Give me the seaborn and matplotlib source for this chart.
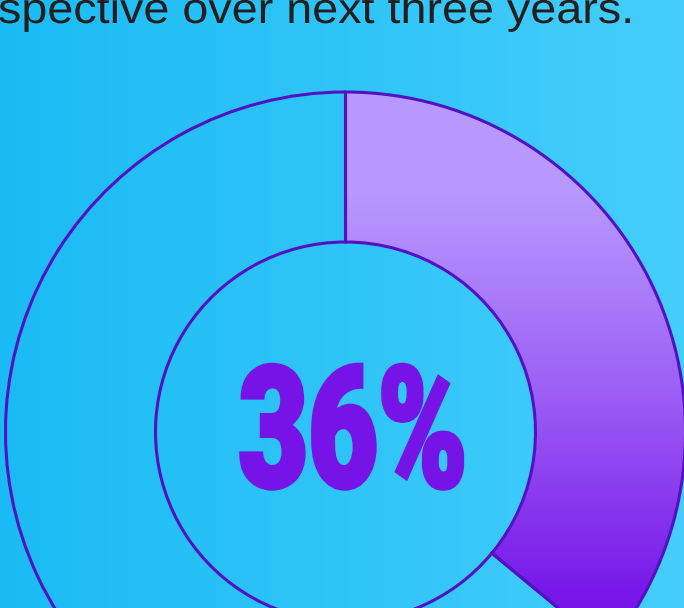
import numpy as np
import matplotlib
matplotlib.use("Agg")
import matplotlib.pyplot as plt
import seaborn as sns
from matplotlib import patheffects
from matplotlib.transforms import Affine2D

# ---- data -------------------------------------------------------------
segments = ["Expect", "Other"]
shares = [36, 64]
headline = "36%"
caption = "spective over next three years."

# ---- styling ----------------------------------------------------------
sns.set_theme(style="white")
W, H = 684, 608
fig = plt.figure(figsize=(W / 100, H / 100), dpi=100)
ax = fig.add_axes([0, 0, 1, 1])

# horizontal cyan backdrop
bg_cmap = sns.blend_palette(["#1abbf4", "#45cefb"], as_cmap=True)
ax.imshow(np.linspace(0, 1, 256)[None, :], cmap=bg_cmap,
          extent=(0, W, 0, H), aspect="auto", zorder=0)

# donut ring
cx, cy = 345.5, 176.0
r_out, r_in = 340.0, 190.0
edge = "#5212c4"
wedges, _ = ax.pie(
    shares, startangle=90, counterclock=False, radius=r_out, center=(cx, cy),
    frame=True,
    wedgeprops=dict(width=r_out - r_in, facecolor="none", edgecolor=edge,
                    linewidth=2.2, zorder=3),
)

# lavender -> violet fill for the highlighted share
fill_cmap = sns.blend_palette(["#b899fe", "#9c5ef5", "#7616e8"], as_cmap=True)
ys = np.linspace(cy - r_out, cy + r_out, 400)
t = np.clip(((H - ys) - 190.0) / 410.0, 0, 1)
grid = np.repeat(t[:, None], 50, axis=1)
img = ax.imshow(grid, cmap=fill_cmap, vmin=0, vmax=1, origin="lower",
                extent=(cx - 5, cx + r_out + 5, cy - r_out, cy + r_out),
                aspect="auto", zorder=2, interpolation="bilinear")
img.set_clip_path(wedges[0])


class Stretch(patheffects.AbstractPathEffect):
    """Scale glyphs horizontally about an anchor, optionally emboldening them."""

    def __init__(self, sx, anchor, bold=0.0):
        super().__init__()
        self.sx = sx
        self.anchor = anchor
        self.bold = bold

    def draw_path(self, renderer, gc, tpath, affine, rgbFace=None):
        px, _ = ax.transData.transform(self.anchor)
        tr = affine + Affine2D().translate(-px, 0).scale(self.sx, 1).translate(px, 0)
        if self.bold > 0 and rgbFace is not None:
            gc0 = renderer.new_gc()
            gc0.copy_properties(gc)
            gc0.set_linewidth(self.bold)
            gc0.set_foreground(rgbFace)
            gc0.set_joinstyle("miter")
            renderer.draw_path(gc0, tpath, tr, rgbFace)
            gc0.restore()
        else:
            renderer.draw_path(gc, tpath, tr, rgbFace)


hx, hy = 353.0, 121.0
ax.text(hx, hy, headline, ha="center", va="baseline", fontsize=122,
        family="Roboto", fontweight="black", color="#7614e8",
        path_effects=[Stretch(0.71, (hx, hy), bold=3.0)], zorder=4)

tx, ty = -2.0, H - 23.0
ax.text(tx, ty, caption, ha="left", va="baseline", fontsize=31,
        family="Liberation Sans", color="#231f20", zorder=4,
        path_effects=[Stretch(1.085, (tx, ty))])

ax.set_xlim(0, W)
ax.set_ylim(0, H)
ax.axis("off")
fig.savefig("out.png", dpi=100)
